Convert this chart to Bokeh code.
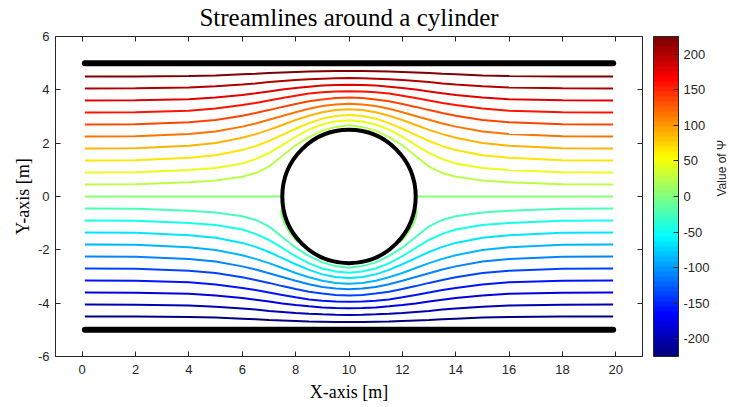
import math
from bokeh.plotting import figure
from bokeh.models import (Range1d, LinearAxis, ColorBar, LinearColorMapper,
                          FixedTicker, ColumnDataSource)
from bokeh.embed import file_html
from bokeh.resources import INLINE

# ---------------- data ----------------
title_text = "Streamlines around a cylinder"
x_label = "X-axis [m]"
y_label = "Y-axis [m]"
cbar_label = "Value of \u03a8"
x_ticks = [0, 2, 4, 6, 8, 10, 12, 14, 16, 18, 20]
y_ticks = [-6, -4, -2, 0, 2, 4, 6]
cbar_ticks = [-200, -150, -100, -50, 0, 50, 100, 150, 200]
psi_low, psi_high = -225, 225

# stream-function level of each upper streamline (lower ones are the negatives)
psi_upper = [22.5, 45, 67.5, 90, 112.5, 135, 157.5, 180, 202.5, 225]

# x positions (left half, up to the cylinder centre) where the lines were read
x_half = [0.1, 2, 4, 5, 6, 6.5, 7, 7.5, 8, 8.5, 9, 9.5, 10]
y_k1 = [0.45, 0.46, 0.53, 0.60, 0.74, 0.88, 1.12, 1.52, 1.92, 2.23, 2.47, 2.61, 2.67]
y_k2 = [0.90, 0.91, 0.99, 1.07, 1.24, 1.40, 1.63, 1.93, 2.24, 2.51, 2.70, 2.81, 2.86]
y_k3 = [1.35, 1.36, 1.45, 1.55, 1.74, 1.89, 2.08, 2.31, 2.54, 2.75, 2.92, 3.02, 3.06]
y_k4 = [1.80, 1.81, 1.90, 2.01, 2.20, 2.34, 2.50, 2.68, 2.87, 3.03, 3.16, 3.24, 3.27]
y_k5 = [2.25, 2.26, 2.34, 2.44, 2.62, 2.74, 2.88, 3.02, 3.16, 3.29, 3.39, 3.45, 3.48]
y_k6 = [2.70, 2.71, 2.78, 2.87, 3.03, 3.13, 3.24, 3.36, 3.47, 3.57, 3.64, 3.69, 3.71]
y_k7 = [3.15, 3.16, 3.22, 3.30, 3.43, 3.51, 3.60, 3.69, 3.78, 3.86, 3.91, 3.94, 3.95]
y_k8 = [3.60, 3.61, 3.65, 3.71, 3.81, 3.87, 3.94, 4.01, 4.07, 4.12, 4.16, 4.18, 4.19]
y_k9 = [4.05, 4.06, 4.09, 4.13, 4.20, 4.24, 4.29, 4.33, 4.37, 4.40, 4.42, 4.435, 4.44]
y_k10 = [4.50, 4.50, 4.52, 4.54, 4.58, 4.60, 4.63, 4.65, 4.67, 4.69, 4.70, 4.71, 4.71]
upper_lines = [y_k1, y_k2, y_k3, y_k4, y_k5, y_k6, y_k7, y_k8, y_k9, y_k10]

# zero streamline: the two straight parts and the small fringes at the lower
# left / lower right of the cylinder
centre_xs = [[0.1, 7.5], [12.5, 19.9],
             [7.45, 7.50, 7.58, 7.75, 7.95, 8.10],
             [12.55, 12.50, 12.42, 12.25, 12.05, 11.90]]
centre_ys = [[0.0, 0.0], [0.0, 0.0],
             [-0.52, -0.80, -1.00, -1.30, -1.58, -1.72],
             [-0.52, -0.80, -1.00, -1.30, -1.58, -1.72]]

# channel walls and cylinder
wall_x = [0.1, 19.9]
wall_levels = [5, -5]
cyl_x, cyl_y, cyl_r = 10, 0, 2.5

# ---------------- build line table ----------------
xs, ys, psis = [], [], []
x_right = [20 - v for v in reversed(x_half[:-1])]
x_full = list(x_half) + x_right
for lev, yh in zip(psi_upper, upper_lines):
    y_full = list(yh) + list(reversed(yh[:-1]))
    xs.append(x_full); ys.append(y_full); psis.append(lev)
    xs.append(x_full); ys.append([-v for v in y_full]); psis.append(-lev)
for cx, cy in zip(centre_xs, centre_ys):
    xs.append(cx); ys.append(cy); psis.append(0.0)

# jet colormap (64 colours)
def jet(n):
    out = []
    for i in range(n):
        t = i / (n - 1)
        r = min(max(1.5 - abs(4 * t - 3), 0), 1)
        g = min(max(1.5 - abs(4 * t - 2), 0), 1)
        b = min(max(1.5 - abs(4 * t - 1), 0), 1)
        out.append("#%02x%02x%02x" % (round(r * 255), round(g * 255), round(b * 255)))
    return out

palette = jet(64)
mapper = LinearColorMapper(palette=palette, low=psi_low, high=psi_high)

def plain(ticks):
    return {t: str(t) for t in ticks}

TXT = "#262626"
p = figure(frame_width=587, frame_height=320,
           x_range=Range1d(-1, 21), y_range=Range1d(-6, 6),
           output_backend="svg", toolbar_location=None,
           min_border_left=55, min_border_right=87,
           min_border_top=36, min_border_bottom=51,
           background_fill_color="white", border_fill_color="white")
p.outline_line_color = None
p.grid.visible = False

p.title.text = title_text
p.title.align = "center"
p.title.vertical_align = "top"
p.title.text_font = "Liberation Serif"
p.title.text_font_size = "25px"
p.title.text_font_style = "normal"
p.title.text_color = "black"
p.title.standoff = 7

def style_axis(ax):
    ax.axis_line_color = TXT
    ax.major_tick_line_color = TXT
    ax.major_tick_in = 5
    ax.major_tick_out = 0
    ax.minor_tick_line_color = None
    ax.major_label_text_font = "Liberation Sans"
    ax.major_label_text_font_size = "13px"
    ax.major_label_text_color = TXT

p.xaxis.ticker = FixedTicker(ticks=x_ticks)
p.yaxis.ticker = FixedTicker(ticks=y_ticks)
p.xaxis.major_label_overrides = plain(x_ticks)
p.yaxis.major_label_overrides = plain(y_ticks)
for ax in p.xaxis + p.yaxis:
    style_axis(ax)
    ax.axis_label_text_font = "Liberation Serif"
    ax.axis_label_text_font_size = "18px"
    ax.axis_label_text_font_style = "normal"
    ax.axis_label_text_color = "black"
p.xaxis.axis_label = x_label
p.yaxis.axis_label = y_label
p.xaxis.major_label_standoff = 8
p.yaxis.major_label_standoff = 6
p.yaxis.axis_label_standoff = 2

# mirrored tick marks on top and right (no labels)
top_ax = LinearAxis(ticker=FixedTicker(ticks=x_ticks))
style_axis(top_ax)
top_ax.major_label_text_color = None
top_ax.major_label_text_font_size = "1px"
top_ax.major_label_standoff = 0
p.add_layout(top_ax, "above")
right_ax = LinearAxis(ticker=FixedTicker(ticks=y_ticks))
style_axis(right_ax)
right_ax.major_label_text_color = None
right_ax.major_label_text_font_size = "1px"
right_ax.major_label_standoff = 0
p.add_layout(right_ax, "right")

# invisible spacer between the axes box and the colour bar
gap_ax = LinearAxis(ticker=FixedTicker(ticks=y_ticks))
gap_ax.axis_line_color = None
gap_ax.major_tick_line_color = None
gap_ax.minor_tick_line_color = None
gap_ax.major_tick_in = 0
gap_ax.major_tick_out = 11
gap_ax.major_label_text_color = None
gap_ax.major_label_text_font_size = "1px"
gap_ax.major_label_standoff = 0
p.add_layout(gap_ax, "right")

# streamlines
src = ColumnDataSource(dict(xs=xs, ys=ys, psi=psis))
p.multi_line(xs="xs", ys="ys", source=src, line_width=2,
             line_color={"field": "psi", "transform": mapper})

# walls
for wy in wall_levels:
    p.line(wall_x, [wy, wy], line_color="black", line_width=6, line_cap="round")

# cylinder
p.circle(x=[cyl_x], y=[cyl_y], radius=cyl_r, fill_color="white",
         line_color="black", line_width=4)

cb = ColorBar(color_mapper=mapper, ticker=FixedTicker(ticks=cbar_ticks),
              major_label_overrides=plain(cbar_ticks),
              width=25, height=320, padding=0, margin=0,
              bar_line_color=TXT, major_tick_in=5, major_tick_out=0,
              major_tick_line_color=TXT, major_label_text_font="Liberation Sans",
              major_label_text_font_size="13px", major_label_text_color=TXT,
              label_standoff=5, background_fill_alpha=0, border_line_color=None)
p.add_layout(cb, "right")

# colour-bar caption as the label of a tick-less outer axis
cap_ax = LinearAxis(ticker=FixedTicker(ticks=[]), axis_label=cbar_label)
cap_ax.axis_line_color = None
cap_ax.major_tick_line_color = None
cap_ax.minor_tick_line_color = None
cap_ax.major_label_text_color = None
cap_ax.major_label_text_font_size = "1px"
cap_ax.major_label_standoff = 0
cap_ax.axis_label_standoff = 9
cap_ax.axis_label_text_font = "Liberation Sans"
cap_ax.axis_label_text_font_size = "12px"
cap_ax.axis_label_text_font_style = "normal"
cap_ax.axis_label_text_color = TXT
if "axis_label_orientation" in LinearAxis.properties():
    cap_ax.axis_label_orientation = math.pi / 2
p.add_layout(cap_ax, "right")

open("out.html", "w").write(file_html(p, INLINE))
